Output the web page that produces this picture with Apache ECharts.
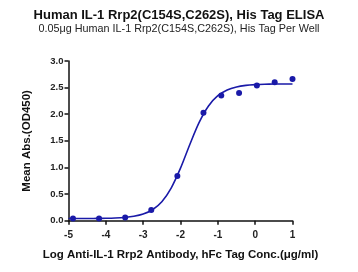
<!DOCTYPE html>
<html>
<head>
<meta charset="utf-8">
<script src="https://cdn.jsdelivr.net/npm/echarts@6/dist/echarts.min.js"></script>
<style>html,body{margin:0;padding:0;background:#fff}#c{width:358px;height:272px}</style>
</head>
<body>
<div id="c"></div>
<script>
// Measured points (log concentration, mean OD450)
var logConc = [-4.880, -4.181, -3.482, -2.783, -2.084, -1.385, -0.908, -0.431, 0.046, 0.523, 1.000];
var meanAbs = [0.04, 0.04, 0.06, 0.20, 0.84, 2.03, 2.35, 2.40, 2.54, 2.60, 2.66];
// Fitted curve
var curveX = [-5, -4.75, -4.5, -4.25, -4, -3.75, -3.5, -3.25, -3, -2.75, -2.5, -2.25, -2, -1.75, -1.5, -1.25, -1, -0.75, -0.5, -0.25, 0, 0.25, 0.5, 0.75, 1];
var curveY = [0.040, 0.041, 0.041, 0.043, 0.045, 0.050, 0.061, 0.082, 0.124, 0.206, 0.357, 0.614, 0.987, 1.432, 1.846, 2.155, 2.348, 2.456, 2.513, 2.542, 2.556, 2.563, 2.567, 2.568, 2.569];
var xTicks = [-5, -4, -3, -2, -1, 0, 1];
var yTicks = [0, 0.5, 1, 1.5, 2, 2.5, 3];

var blue = '#1a1aa8';
var font = 'Liberation Sans, Arial, sans-serif';
var chart = echarts.init(document.getElementById('c'), null, {renderer: 'canvas'});
chart.setOption({
  animation: false,
  backgroundColor: '#fff',
  title: {
    text: 'Human IL-1 Rrp2(C154S,C262S), His Tag ELISA',
    subtext: '0.05μg Human IL-1 Rrp2(C154S,C262S), His Tag Per Well',
    left: 'center', top: 4, itemGap: 2,
    textStyle: {fontFamily: font, fontSize: 13, fontWeight: 'bold', color: '#111'},
    subtextStyle: {fontFamily: font, fontSize: 10.8, color: '#222'}
  },
  grid: {left: 68.5, right: 65.5, top: 61, bottom: 51.3},
  xAxis: {
    type: 'value', min: xTicks[0], max: xTicks[xTicks.length - 1], interval: 1,
    name: 'Log Anti-IL-1 Rrp2 Antibody, hFc Tag Conc.(μg/ml)',
    nameLocation: 'middle', nameGap: 28,
    nameTextStyle: {fontFamily: font, fontSize: 11.5, fontWeight: 'bold', color: '#111'},
    axisLine: {onZero: false, lineStyle: {color: '#111', width: 1.5}},
    axisTick: {length: 4, lineStyle: {color: '#111', width: 1.5}},
    axisLabel: {fontFamily: font, fontSize: 10, fontWeight: 'bold', color: '#222', margin: 10},
    splitLine: {show: false}
  },
  yAxis: {
    type: 'value', min: yTicks[0], max: yTicks[yTicks.length - 1], interval: 0.5,
    name: 'Mean Abs.(OD450)',
    nameLocation: 'middle', nameGap: 36,
    nameTextStyle: {fontFamily: font, fontSize: 11.5, fontWeight: 'bold', color: '#111'},
    axisLine: {show: true, onZero: false, lineStyle: {color: '#111', width: 1.5}},
    axisTick: {show: true, length: 4, lineStyle: {color: '#111', width: 1.5}},
    axisLabel: {fontFamily: font, fontSize: 9.5, fontWeight: 'bold', color: '#222', margin: 5,
      formatter: function (v) { return v.toFixed(1); }},
    splitLine: {show: false}
  },
  series: [
    {
      type: 'line', smooth: 0.3, symbol: 'none',
      data: curveX.map(function (x, i) { return [x, curveY[i]]; }),
      lineStyle: {color: blue, width: 1.6}
    },
    {
      type: 'scatter', symbol: 'circle', symbolSize: 6,
      data: logConc.map(function (x, i) { return [x, meanAbs[i]]; }),
      itemStyle: {color: blue, opacity: 1}
    }
  ]
});
</script>
</body>
</html>
